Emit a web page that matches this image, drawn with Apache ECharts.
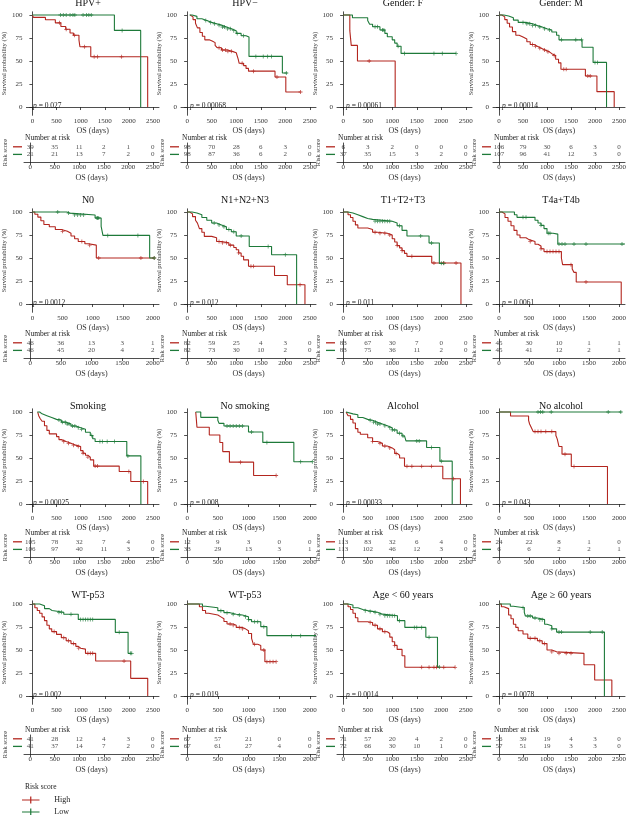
<!DOCTYPE html>
<html><head><meta charset="utf-8">
<script src="https://cdn.jsdelivr.net/npm/echarts@6/dist/echarts.min.js"></script>
<style>html,body{margin:0;padding:0;background:#fff}#c{width:629px;height:815px}</style>
</head><body><div id="c"></div>
<script>
// ---------- DATA ----------
const panelTitles = ['HPV+','HPV\u2212','Gender: F','Gender: M','N0','N1+N2+N3','T1+T2+T3','T4a+T4b',
  'Smoking','No smoking','Alcohol','No alcohol','WT-p53','WT-p53','Age < 60 years','Age \u2265 60 years'];
const pValues = ['0.027','0.00068','0.00061','0.00014','0.0012','0.012','0.011','0.0061',
  '0.00025','0.008','0.00033','0.043','0.002','0.019','0.0014','0.0078'];
const axisMaxDays = [2500,2500,2500,2500,2000,2500,2500,2000,2500,2000,2500,2000,2500,2000,2500,2500];
const ticks2500 = [0,500,1000,1500,2000,2500];
const ticks2000 = [0,500,1000,1500,2000];
const yTicks = [0,25,50,75,100];

// survival step points [day, survival %]; censor days
const p01High = [[0,100],[20,97.4],[270,94.8],[475,91.5],[590,87.5],[690,84.5],[780,80.5],[850,78],[965,73],[985,65.5],[1210,54.6],[2390,0]];
const p01HighCens = [560,700,870,1080,1280,1350,1850];
const p01Low = [[0,100],[1700,83.3],[2245,0]];
const p01LowCens = [580,640,700,780,840,880,1050,1120,1170,1220,1860];

const p02High = [[60,100],[80,98],[120,95],[170,91],[210,86],[260,81],[310,77],[360,73],[450,71.5],[520,70],[570,67],[610,64.5],[700,62],[820,60.5],[920,59],[1000,57.5],[1040,52],[1060,47.5],[1150,45],[1200,42],[1250,39],[1790,32.6],[2010,16.3],[2310,16.3]];
const p02HighCens = [650,720,780,830,900,1120,1350,1830,2310];
const p02Low = [[50,100],[100,98.5],[200,96],[300,94],[400,92],[500,90.5],[600,89],[700,87],[800,85],[900,83],[1000,80],[1100,77.5],[1200,76],[1260,55],[1940,37],[2040,37]];
const p02LowCens = [380,480,560,650,720,760,820,880,950,1020,1150,1400,1550,1640,1720,2020];

const p03High = [[0,100],[136,83],[165,67],[292,50],[1060,0]];
const p03HighCens = [530];
const p03Low = [[0,100],[190,97],[500,94],[540,90],[600,87.3],[750,83.7],[850,80],[900,76.4],[1000,73],[1050,69.5],[1100,66],[1180,58.3],[2300,58.3]];
const p03LowCens = [650,700,800,830,1120,1250,1850,2020,2300];

const p04High = [[0,100],[60,98],[120,95],[170,91],[220,87],[280,82],[350,78],[420,76],[500,74],[580,71],[650,68],[730,66],[800,64],[880,62],[960,60],[1050,58],[1100,56],[1180,52],[1240,48],[1290,41],[1800,33.7],[2040,16.7],[2400,0]];
const p04HighCens = [700,760,850,950,1020,1150,1350,1400,1850,1900];
const p04Low = [[0,100],[100,99],[200,97],[300,94.5],[400,92],[550,90.5],[700,88.5],[800,87],[900,85],[1000,83.7],[1100,81.5],[1200,78],[1250,73],[1730,65],[1960,48.5],[2240,0]];
const p04LowCens = [500,580,640,700,760,850,950,1050,1300,1600,1720,2000,2050];

const p05High = [[0,100],[40,97.5],[90,94.5],[140,90.5],[190,86.5],[280,84],[380,81],[480,79],[580,77],[640,74],[700,71],[760,68],[870,65.5],[930,64],[1060,50],[2020,50]];
const p05HighCens = [500,820,950,1100,1800,2020];
const p05Low = [[0,100],[570,98.8],[620,96.8],[1040,93.5],[1140,84.5],[1170,74.6],[1945,50],[2020,50]];
const p05LowCens = [420,600,700,750,800,850,1070,1080,1100,1250,1750,2020];

const p06High = [[0,100],[50,98],[110,95],[170,91],[210,88],[250,82],[300,78],[350,73.5],[500,72],[600,68],[700,66.5],[850,64],[950,61.5],[1000,59],[1050,55.5],[1100,52],[1150,48],[1250,41],[1780,31],[2040,21],[2400,0]];
const p06HighCens = [650,720,800,880,1050,1300,1350,2300];
const p06Low = [[0,100],[100,99],[200,97],[300,94],[400,91],[500,88],[600,86],[700,84],[800,81],[900,78.5],[1000,74],[1265,62.5],[1720,53.6],[2230,0]];
const p06LowCens = [550,650,750,850,950,1100,1650,2000];

const p07High = [[0,100],[100,97],[150,94],[200,90],[250,86],[300,82.6],[500,81],[600,78],[700,77],[900,75],[1000,71],[1050,67.4],[1100,63.5],[1150,61],[1200,58],[1250,55],[1300,51.8],[1805,44.6],[2400,0]];
const p07HighCens = [650,750,850,950,1100,1200,1400,1850,2050,2300];
const p07Low = [[0,100],[100,99],[200,97],[300,95],[400,93],[500,92],[600,90],[1000,88],[1100,85],[1200,80],[1300,74],[1750,66.3],[1960,44.2],[2050,44.2]];
const p07LowCens = [650,700,750,800,850,900,950,1150,1580,1800,2000,2050];

const p08High = [[0,100],[50,98],[100,94],[150,90],[200,85],[250,80],[300,75],[350,72],[450,70],[500,68],[600,65],[650,63],[700,60],[750,57],[1040,50],[1060,42.8],[1220,38],[1250,34.4],[1287,24],[2037,0]];
const p08HighCens = [520,700,800,850,900,950,1000,1200,1450];
const p08Low = [[0,100],[257,97],[300,94.2],[600,91],[650,88],[700,85.5],[750,82],[800,77],[900,76],[980,65.2],[2100,65.2]];
const p08LowCens = [400,450,700,820,850,1000,1050,1100,1250,1450,2050];

const p09High = [[110,100],[130,96],[160,93],[200,90],[250,85],[300,80],[350,76.2],[500,73.3],[550,70],[600,67.9],[700,66],[800,64],[900,62.5],[1000,58],[1050,55.2],[1100,53],[1150,51],[1200,48],[1270,41.2],[1800,35.4],[2040,24.5],[2390,0]];
const p09HighCens = [650,750,850,950,1050,1150,1300,1350,2000,2300];
const p09Low = [[100,100],[150,98],[200,96],[300,94],[400,92],[500,91.3],[600,89],[700,87],[800,84.8],[900,83],[1000,81.2],[1100,78],[1200,74.4],[1250,71],[1300,67.9],[1957,52.3],[2249,0]];
const p09LowCens = [550,620,680,720,760,830,880,950,1020,1230,1400,1450,1550,1700,1980];

const p10High = [[140,100],[150,92],[160,83.4],[361,75.1],[533,66.8],[580,57],[689,45.5],[1083,31],[1450,31]];
const p10HighCens = [870,1450];
const p10Low = [[140,100],[222,94.2],[500,91],[520,87.7],[600,84.8],[1000,78.3],[1233,67],[1739,46],[2040,46]];
const p10LowCens = [650,700,750,800,850,900,1050,1300,1850,2040];

const p11High = [[60,100],[100,96],[150,92],[200,88],[250,82],[300,78],[350,75.8],[500,72],[600,68],[700,66],[800,63],[900,61],[1000,59],[1050,55],[1100,53],[1150,50],[1250,41],[2030,27.4],[2390,0]];
const p11HighCens = [600,750,850,950,1080,1300,1400,1600,1800,2250];
const p11Low = [[60,100],[100,98],[200,97],[300,94],[400,92],[500,91],[600,89],[700,87],[800,85],[900,83],[1000,80.5],[1100,77],[1200,74],[1250,72],[1280,68.6],[1700,61.4],[1971,46.6],[2222,0]];
const p11LowCens = [550,620,660,700,750,850,950,1000,1050,1150,1220,1500,1550,1800,2000];

const p12High = [[0,100],[192,95.7],[493,91],[510,87],[540,83],[570,78.7],[948,74.5],[970,70.8],[1000,62.5],[1050,54.2],[1205,40.8],[1808,0]];
const p12HighCens = [600,650,700,780,880,1100,1250];
const p12Low = [[0,100],[2040,100]];
const p12LowCens = [650,690,730,870,1820,2030];

const p13High = [[0,100],[50,96],[100,93],[150,90],[200,86],[250,82],[300,77],[350,73],[400,70],[500,67],[600,63.4],[700,60],[800,57],[900,54],[950,52],[1000,51],[1100,46.4],[1311,38],[2038,19.2],[2391,0]];
const p13HighCens = [450,650,750,850,960,1150,1200,1250,1900];
const p13Low = [[0,100],[150,98],[251,95],[350,93],[407,91],[650,88.8],[951,83.3],[1719,69.2],[1984,46.4],[2060,46.4]];
const p13LowCens = [550,600,800,1000,1050,1100,1150,1200,1250,1800,2030,2060];

const p14High = [[0,100],[200,97],[250,93],[300,90],[350,88],[500,86],[550,84],[600,81],[650,78.3],[750,77],[800,74.6],[900,73],[950,71],[1000,68],[1050,62.7],[1080,56.2],[1150,55],[1200,50],[1267,37.3],[1450,37.3]];
const p14HighCens = [700,750,850,900,1100,1250,1300,1350,1400,1450];
const p14Low = [[0,100],[250,97.5],[300,96],[500,92.8],[600,90.6],[700,88.8],[800,88],[900,86.2],[1000,83],[1050,80.8],[1200,75.4],[1300,65.6],[2100,65.6]];
const p14LowCens = [550,650,750,850,950,1000,1100,1150,1250,1700,1850];

const p15High = [[0,100],[100,97],[150,94],[200,89.9],[250,85],[300,80.8],[500,80],[600,77],[700,73],[800,69.9],[900,68],[950,64],[1000,59],[1050,55],[1100,50.7],[1200,43.8],[1257,31.2],[2280,31.2]];
const p15HighCens = [550,650,750,850,1050,1600,1750,1850,1900,2050,2280];
const p15Low = [[0,100],[100,99],[200,96],[300,94],[400,92.8],[500,92],[600,91],[700,89],[800,87.3],[1107,81.9],[1257,74.6],[1685,63.8],[1922,31.5],[1960,31.5]];
const p15LowCens = [450,550,650,750,850,900,950,1000,1050,1150,1450,1500,1600,1750,1960];

const p16High = [[0,100],[50,97],[100,95],[200,88],[250,84],[300,78],[350,74.6],[400,71],[500,67.4],[600,62.7],[800,60],[900,57],[1000,50],[1100,48],[1200,46.4],[1770,34],[1993,17.4],[2351,0]];
const p16HighCens = [650,750,850,950,1100,1250,1400,1500];
const p16Low = [[0,100],[236,97.5],[300,96],[527,91],[550,87],[700,84.8],[800,83],[950,78],[1000,76.4],[1100,73],[1200,69.5],[2196,0]];
const p16LowCens = [500,600,650,750,850,900,1100,1250,1300,1900,2150];

// number at risk (per tick)
const riskHigh = [[39,35,11,2,1,0],[98,70,28,6,3,0],[6,3,2,0,0,0],[106,79,30,6,3,0],
  [46,36,13,3,1],[82,59,25,4,3,0],[83,67,30,7,0,0],[45,30,10,1,1],
  [105,78,32,7,4,0],[12,9,3,0,0],[113,83,32,6,4,0],[24,22,8,1,0],
  [41,28,12,4,3,0],[67,57,21,0,0],[71,57,20,4,2,0],[56,39,19,4,3,0]];
const riskLow = [[21,21,13,7,2,0],[98,87,36,6,2,0],[37,35,15,3,2,0],[107,96,41,12,3,0],
  [46,45,20,4,2],[82,73,30,10,2,0],[83,75,36,11,2,0],[45,41,12,2,1],
  [106,97,40,11,3,0],[33,29,13,3,1],[113,102,46,12,3,0],[6,6,2,2,1],
  [41,37,14,7,2,0],[67,61,27,4,0],[72,66,30,10,1,0],[57,51,19,3,3,0]];

const highCurves = [p01High,p02High,p03High,p04High,p05High,p06High,p07High,p08High,p09High,p10High,p11High,p12High,p13High,p14High,p15High,p16High];
const lowCurves = [p01Low,p02Low,p03Low,p04Low,p05Low,p06Low,p07Low,p08Low,p09Low,p10Low,p11Low,p12Low,p13Low,p14Low,p15Low,p16Low];
const highCens = [p01HighCens,p02HighCens,p03HighCens,p04HighCens,p05HighCens,p06HighCens,p07HighCens,p08HighCens,p09HighCens,p10HighCens,p11HighCens,p12HighCens,p13HighCens,p14HighCens,p15HighCens,p16HighCens];
const lowCens = [p01LowCens,p02LowCens,p03LowCens,p04LowCens,p05LowCens,p06LowCens,p07LowCens,p08LowCens,p09LowCens,p10LowCens,p11LowCens,p12LowCens,p13LowCens,p14LowCens,p15LowCens,p16LowCens];

// ---------- LAYOUT / STYLE ----------
const RED = '#B3261F', GREEN = '#1E7A3A';
const FONT = "'Liberation Serif','DejaVu Serif',serif";
const TXT = '#333';
const colLeft = [24,181,337,493];
const colCenter = [88,245,403,561];
const colWidth = 135;
const rowY100 = [15,212,412,604];
const titleY = [3,200,406,595];
const tableBottom = [162,358,557,754];
const PLUS = 'path://M4,0H6V4H10V6H6V10H4V6H0V4H4Z';
const LEG_ICON = 'path://M0,3.4H20V4.6H0Z M9.3,0H10.7V8H9.3Z';

function survAt(steps, t) {
  let v = steps[0][1];
  for (const [tt, s] of steps) { if (tt <= t) v = s; else break; }
  return v;
}

const grid = [], xAxis = [], yAxis = [], series = [], graphic = [];
const axisLineStyle = {color:'#222', width:0.8};

for (let i = 0; i < 16; i++) {
  const r = Math.floor(i / 4), c = i % 4;
  const mx = axisMaxDays[i];
  const ticks = mx === 2500 ? ticks2500 : ticks2000;
  const gPlot = grid.length;
  grid.push({left: colLeft[c], top: rowY100[r] - 3.2, width: colWidth, height: 103.5});
  const gTab = grid.length;
  grid.push({left: colLeft[c], top: tableBottom[r] - 19, width: colWidth, height: 19});

  const xCommon = {
    type:'value', min: -0.05 * mx, max: 1.05 * mx,
    axisLine:{show:true, lineStyle:axisLineStyle},
    axisTick:{show:true, customValues: ticks, length:3, lineStyle:axisLineStyle},
    axisLabel:{customValues: ticks, fontSize:7, margin:2, color:TXT, fontFamily:FONT, formatter: v => String(v)},
    splitLine:{show:false},
    name:'OS (days)', nameLocation:'middle', nameGap:12,
    nameTextStyle:{fontSize:8, color:TXT, fontFamily:FONT}
  };
  xAxis.push(Object.assign({gridIndex: gPlot}, xCommon));
  xAxis.push(Object.assign({gridIndex: gTab}, xCommon));

  yAxis.push({
    gridIndex: gPlot, type:'value', min:-9, max:103.5,
    axisLine:{show:true, lineStyle:axisLineStyle},
    axisTick:{show:true, customValues: yTicks, length:3, lineStyle:axisLineStyle},
    axisLabel:{customValues: yTicks, fontSize:7, margin:4, color:TXT, fontFamily:FONT, formatter: v => String(v)},
    splitLine:{show:false},
    name:'Survival probability (%)', nameLocation:'middle', nameGap:15,
    nameTextStyle:{fontSize:6.5, color:TXT, fontFamily:FONT}
  });
  yAxis.push({
    gridIndex: gTab, type:'value', min:0, max:2.5,
    axisLine:{show:true, lineStyle:axisLineStyle},
    axisTick:{show:false},
    axisLabel:{customValues:[1,2], margin:2,
      formatter: v => v === 2 ? '{h| }' : '{l| }',
      rich:{h:{width:9, height:1.3, backgroundColor:RED, fontSize:1},
            l:{width:9, height:1.3, backgroundColor:GREEN, fontSize:1}}},
    splitLine:{show:false},
    name:'Risk score', nameLocation:'middle', nameGap:15,
    nameTextStyle:{fontSize:6.5, color:TXT, fontFamily:FONT}
  });

  const xi = gPlot, ti = gTab;
  [[highCurves[i], highCens[i], RED, 'High'], [lowCurves[i], lowCens[i], GREEN, 'Low']].forEach(([curve, cens, col, nm]) => {
    series.push({type:'line', name:nm, xAxisIndex:xi, yAxisIndex:xi, data:curve, step:'end',
      showSymbol:false, symbol:'none', color:col, lineStyle:{color:col, width:1.1}, silent:true, z:3});
    series.push({type:'scatter', name:nm, xAxisIndex:xi, yAxisIndex:xi,
      data: cens.map(t => [t, survAt(curve, t)]),
      symbol:PLUS, symbolSize:4, color:col, itemStyle:{color:col}, silent:true, z:4});
  });
  [[riskHigh[i], 2], [riskLow[i], 1]].forEach(([vals, yy]) => {
    series.push({type:'scatter', name:'_risk', xAxisIndex:ti, yAxisIndex:ti,
      data: ticks.map((t, k) => [t, yy, vals[k]]),
      symbolSize:0.1, itemStyle:{color:'rgba(0,0,0,0)'}, silent:true,
      label:{show:true, position:'inside', formatter: p => String(p.value[2]),
        fontSize:7, color:'#222', fontFamily:FONT}});
  });

  graphic.push({type:'text', x: colCenter[c], y: titleY[r], silent:true,
    style:{text: panelTitles[i], fill:'#111', font:'10px ' + FONT, align:'center', verticalAlign:'middle'}});
  graphic.push({type:'text', x: colLeft[c] + 9, y: rowY100[r] + 91, silent:true,
    style:{text: '{i|p} = ' + pValues[i], fill:'#222', font:'7.5px ' + FONT, verticalAlign:'middle',
      rich:{i:{fontStyle:'italic', fontSize:7.5, fontFamily:FONT, fill:'#222'}}}});
  graphic.push({type:'text', x: colLeft[c] + 1, y: tableBottom[r] - 24, silent:true,
    style:{text: 'Number at risk', fill:'#222', font:'7.5px ' + FONT, verticalAlign:'middle'}});
}

graphic.push({type:'text', x: 25, y: 787, silent:true,
  style:{text:'Risk score', fill:'#222', font:'7.5px ' + FONT, verticalAlign:'middle'}});

const legendBase = {orient:'horizontal', left:22, itemWidth:19, itemHeight:7, padding:0,
  selectedMode:false, textStyle:{fontSize:8, color:'#222', fontFamily:FONT, padding:[0,0,0,9]}};
const option = {
  animation:false,
  backgroundColor:'#fff',
  grid, xAxis, yAxis, series, graphic,
  legend:[
    Object.assign({data:[{name:'High', icon:LEG_ICON}], top:796}, legendBase),
    Object.assign({data:[{name:'Low', icon:LEG_ICON}], top:808}, legendBase)
  ]
};
const chart = echarts.init(document.getElementById('c'), null, {renderer:'canvas'});
chart.setOption(option);
</script></body></html>
